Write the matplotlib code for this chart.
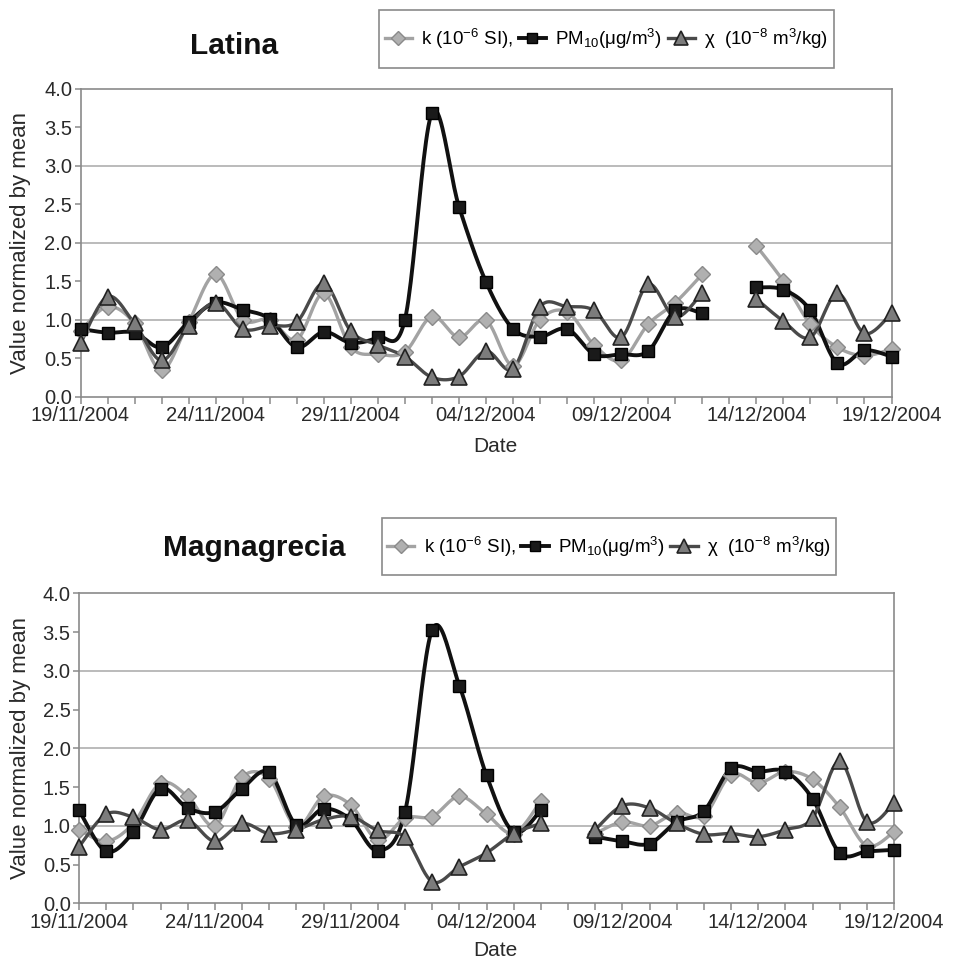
import numpy as np
import matplotlib
matplotlib.use("Agg")
import matplotlib.pyplot as plt
from matplotlib.lines import Line2D
from matplotlib.patches import Rectangle

plt.rcParams['font.family'] = ['Liberation Sans', 'DejaVu Sans']
plt.rcParams['mathtext.fontset'] = 'custom'
plt.rcParams['mathtext.rm'] = 'Liberation Sans'
plt.rcParams['mathtext.it'] = 'Liberation Sans:italic'
plt.rcParams['mathtext.bf'] = 'Liberation Sans:bold'

nan = np.nan
# ---- data ----
days = np.arange(31)  # 19/11/2004 ... 19/12/2004
tick_days = [0, 5, 10, 15, 20, 25, 30]
tick_labels = ['19/11/2004', '24/11/2004', '29/11/2004', '04/12/2004',
               '09/12/2004', '14/12/2004', '19/12/2004']
yticks = [0.0, 0.5, 1.0, 1.5, 2.0, 2.5, 3.0, 3.5, 4.0]

k_lat = [0.85, 1.17, 0.95, 0.34, 0.97, 1.59, 1.00, 1.00, 0.74, 1.34, 0.64, 0.55, 0.58, 1.04, 0.77, 0.99,
         0.40, 1.00, 1.10, 0.67, 0.47, 0.94, 1.22, 1.59, nan, 1.96, 1.50, 0.94, 0.64, 0.53, 0.62]
pm_lat = [0.88, 0.83, 0.83, 0.64, 0.97, 1.22, 1.13, 1.01, 0.64, 0.84, 0.70, 0.77, 1.00, 3.69, 2.47, 1.49,
          0.88, 0.78, 0.88, 0.55, 0.55, 0.59, 1.12, 1.08, nan, 1.42, 1.39, 1.12, 0.43, 0.60, 0.52]
chi_lat = [0.69, 1.30, 0.95, 0.47, 0.92, 1.22, 0.88, 0.92, 0.97, 1.47, 0.85, 0.67, 0.52, 0.25, 0.26, 0.59,
           0.36, 1.17, 1.17, 1.12, 0.77, 1.46, 1.03, 1.35, nan, 1.27, 0.98, 0.77, 1.34, 0.82, 1.08]

k_mag = [0.95, 0.80, 1.03, 1.55, 1.38, 1.00, 1.63, 1.61, 0.99, 1.38, 1.27, 0.82, 1.10, 1.12, 1.38, 1.15,
         0.90, 1.32, nan, 0.90, 1.05, 1.00, 1.17, 1.13, 1.66, 1.55, 1.70, 1.60, 1.24, 0.74, 0.92]
pm_mag = [1.20, 0.67, 0.92, 1.48, 1.23, 1.18, 1.48, 1.69, 1.01, 1.22, 1.08, 0.68, 1.18, 3.53, 2.81, 1.65,
          0.92, 1.20, nan, 0.86, 0.80, 0.77, 1.05, 1.19, 1.74, 1.70, 1.70, 1.35, 0.65, 0.67, 0.69]
chi_mag = [0.73, 1.15, 1.11, 0.95, 1.07, 0.80, 1.03, 0.90, 0.95, 1.08, 1.12, 0.94, 0.85, 0.28, 0.47, 0.65,
           0.90, 1.03, nan, 0.95, 1.26, 1.23, 1.03, 0.89, 0.90, 0.86, 0.95, 1.10, 1.83, 1.05, 1.29]

labels = ['k (10$^{-6}$ SI),', 'PM$_{10}$(μg/m$^{3}$)', 'χ  (10$^{-8}$ m$^{3}$/kg)']
titles = ['Latina', 'Magnagrecia']

# ---- styles ----
styles = [
    dict(color='#a3a3a3', lw=2.4, marker='D', ms=8, mfc='#b0b0b0', mec='#8a8a8a', mew=1.0),
    dict(color='#111111', lw=2.8, marker='s', ms=8.5, mfc='#1a1a1a', mec='#000000', mew=1.0),
    dict(color='#4a4a4a', lw=2.4, marker='^', ms=11, mfc='#7c7c7c', mec='#222222', mew=1.2),
]


def smooth(x, y, n=24):
    x = np.asarray(x, float)
    y = np.asarray(y, float)
    xs, ys = [], []
    ok = ~np.isnan(y)
    i = 0
    N = len(y)
    while i < N:
        if not ok[i]:
            i += 1
            continue
        j = i
        while j < N and ok[j]:
            j += 1
        px, py = x[i:j], y[i:j]
        m = len(px)
        if m == 1:
            xs += [px[0]]; ys += [py[0]]
        else:
            for s in range(m - 1):
                p0 = np.array([px[s - 1], py[s - 1]]) if s > 0 else np.array([px[s], py[s]])
                p1 = np.array([px[s], py[s]])
                p2 = np.array([px[s + 1], py[s + 1]])
                p3 = np.array([px[s + 2], py[s + 2]]) if s + 2 < m else p2
                c1 = p1 + (p2 - p0) / 6.0
                c2 = p2 - (p3 - p1) / 6.0
                t = np.linspace(0, 1, n)[:, None]
                b = ((1 - t) ** 3) * p1 + 3 * ((1 - t) ** 2) * t * c1 + 3 * (1 - t) * t ** 2 * c2 + t ** 3 * p2
                xs += list(b[:, 0]); ys += list(b[:, 1])
        xs.append(nan); ys.append(nan)
        i = j
    return np.array(xs), np.array(ys)


W, H = 956, 960
fig = plt.figure(figsize=(W / 100, H / 100), dpi=100)

panels = [
    dict(series=[k_lat, pm_lat, chi_lat], box=(80.5, 891.5, 89, 396.5),
         title_xy=(234, 46), leg=(379, 834, 10, 68), date_y=447),
    dict(series=[k_mag, pm_mag, chi_mag], box=(79, 894, 593.3, 903.3),
         title_xy=(254, 548), leg=(382, 836, 518, 575), date_y=950),
]

for p, title in zip(panels, titles):
    l, r, t, b = p['box']
    ax = fig.add_axes([l / W, 1 - b / H, (r - l) / W, (b - t) / H])
    ax.set_xlim(0, 30)
    ax.set_ylim(0, 4)
    for y in [1, 2, 3]:
        ax.axhline(y, color='#a8a8a8', lw=1.1, zorder=1)
    handles = []
    order = [0, 2, 1]
    for idx in order:
        st = styles[idx]
        vals = p['series'][idx]
        sx, sy = smooth(days, vals)
        ax.plot(sx, sy, color=st['color'], lw=st['lw'], solid_capstyle='round', zorder=2 + idx)
        ax.plot(days, vals, linestyle='none', marker=st['marker'], ms=st['ms'], mfc=st['mfc'],
                mec=st['mec'], mew=st['mew'], zorder=5 + idx, clip_on=False)
    for idx in range(3):
        st = styles[idx]
        handles.append(Line2D([], [], color=st['color'], lw=st['lw'], marker=st['marker'],
                              ms=st['ms'] * 0.9, mfc=st['mfc'], mec=st['mec'], mew=st['mew']))
    for s in ax.spines.values():
        s.set_color('#8a8a8a')
        s.set_linewidth(1.2)
    ax.set_yticks(yticks)
    ax.set_yticklabels([f'{v:.1f}' for v in yticks])
    ax.set_xticks(tick_days)
    ax.set_xticklabels(tick_labels)
    ax.set_xticks(days, minor=True)
    ax.tick_params(axis='x', which='both', length=5, width=1.1, color='#8a8a8a', direction='out',
                   labelsize=14.5, pad=2, labelcolor='#2a2a2a')
    ax.tick_params(axis='y', length=4, width=1.1, color='#8a8a8a', direction='out',
                   labelsize=14.5, pad=2, labelcolor='#2a2a2a')
    ax.set_ylabel('Value normalized by mean', fontsize=16, color='#2a2a2a', va='center')
    ax.yaxis.set_label_coords(-(l - 21) / (r - l), 0.5)
    ax.set_xlabel('Date', fontsize=15, color='#2a2a2a')
    ax.xaxis.set_label_coords((495 - l) / (r - l), -(p['date_y'] - b) / (b - t))
    ax.xaxis.label.set_va('center')

    fig.text(p['title_xy'][0] / W, 1 - p['title_xy'][1] / H, title, fontsize=21.5,
             fontweight='bold', ha='center', va='center', color='#111111')

    ll, lr, lt, lb = p['leg']
    fig.patches.append(Rectangle((ll / W, 1 - lb / H), (lr - ll) / W, (lb - lt) / H,
                                 transform=fig.transFigure, fill=False, edgecolor='#8a8a8a',
                                 lw=1.2))
    fig.legend(handles, labels, loc='center', bbox_to_anchor=((ll + lr) / 2 / W, 1 - (lt + lb) / 2 / H),
               ncol=3, frameon=False, fontsize=13.5, handlelength=1.45, handletextpad=0.5,
               columnspacing=0.3, borderpad=0.2)

fig.savefig('out.png', dpi=100)
